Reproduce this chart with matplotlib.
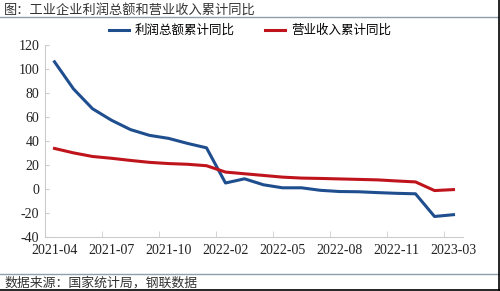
import matplotlib
matplotlib.use("Agg")
import matplotlib.pyplot as plt
import numpy as np

# months (Jan is merged into Feb in the source data)
months = ["2021-04", "2021-05", "2021-06", "2021-07", "2021-08", "2021-09",
          "2021-10", "2021-11", "2021-12",
          "2022-02", "2022-03", "2022-04", "2022-05", "2022-06", "2022-07",
          "2022-08", "2022-09", "2022-10", "2022-11", "2022-12",
          "2023-02", "2023-03"]

profit = [106.0, 83.4, 66.9, 57.3, 49.5, 44.7, 42.2, 38.0, 34.3,
          5.0, 8.5, 3.5, 1.0, 1.0, -1.1, -2.1, -2.3, -3.0, -3.6, -4.0,
          -22.9, -21.4]

revenue = [33.8, 30.1, 27.1, 25.6, 23.8, 22.2, 21.2, 20.6, 19.4,
           14.1, 12.7, 11.3, 9.9, 9.1, 8.8, 8.4, 8.0, 7.6, 6.7, 5.9,
           -1.3, -0.5]

yticks = [-40, -20, 0, 20, 40, 60, 80, 100, 120]

label_every = 3

cjk = ["Noto Sans CJK SC", "DejaVu Sans"]
serif = ["Liberation Serif", "DejaVu Serif"]

fig = plt.figure(figsize=(5.0, 2.91), dpi=100)

ax = fig.add_axes([45 / 500, 1 - 237 / 291, (463 - 45) / 500, (237 - 45) / 291])

x = np.arange(len(months))
ax.plot(x, profit, color="#1F4E8F", lw=2.2, solid_joinstyle="round", label="利润总额累计同比")
ax.plot(x, revenue, color="#C0141C", lw=2.2, solid_joinstyle="round", label="营业收入累计同比")

ax.set_xlim(-0.5, len(months) - 0.5)
ax.set_ylim(-40, 120)
ax.set_yticks(yticks)
ax.set_yticklabels([str(v) for v in yticks], family=serif, fontsize=10, color="#222222")

# labels at category centres, tick marks on category boundaries
ax.set_xticks(x[::label_every])
ax.set_xticklabels(months[::label_every], family=serif, fontsize=10, color="#222222")
ax.tick_params(axis="x", length=0, pad=5)
ax.set_xticks(np.arange(-0.5, len(months), label_every), minor=True)
ax.tick_params(axis="x", which="minor", direction="in", length=4, color="#cccccc")
ax.tick_params(axis="y", direction="in", length=3, color="#cccccc", pad=4)

for side in ["top", "right"]:
    ax.spines[side].set_visible(False)
for side in ["left", "bottom"]:
    ax.spines[side].set_color("#cccccc")
    ax.spines[side].set_linewidth(0.8)

ax.legend(loc="center", bbox_to_anchor=(0.49, 1.075), ncol=2, frameon=False,
          prop={"family": cjk, "size": 9}, handlelength=1.6, columnspacing=2.4,
          handletextpad=0.5)

# header / footer
fig.text(4 / 500, 1 - 10 / 291, "图：工业企业利润总额和营业收入累计同比", family=cjk,
         fontsize=9.5, color="#333333", va="center", ha="left")
fig.add_artist(plt.Line2D([0, 1], [1 - 17 / 291] * 2, color="#8fa0aa", lw=1.0))
fig.add_artist(plt.Line2D([0, 1], [1 - 274 / 291] * 2, color="#8fa0aa", lw=1.0))
fig.text(4 / 500, 1 - 283 / 291, "数据来源：国家统计局，钢联数据", family=cjk,
         fontsize=9.3, color="#333333", va="center", ha="left")
fig.add_artist(plt.Line2D([1 - 1.5 / 500] * 2, [0, 1], color="black", lw=1.2))
fig.add_artist(plt.Line2D([0, 1], [1 / 291] * 2, color="black", lw=1.2))

fig.savefig("out.png", dpi=100)
